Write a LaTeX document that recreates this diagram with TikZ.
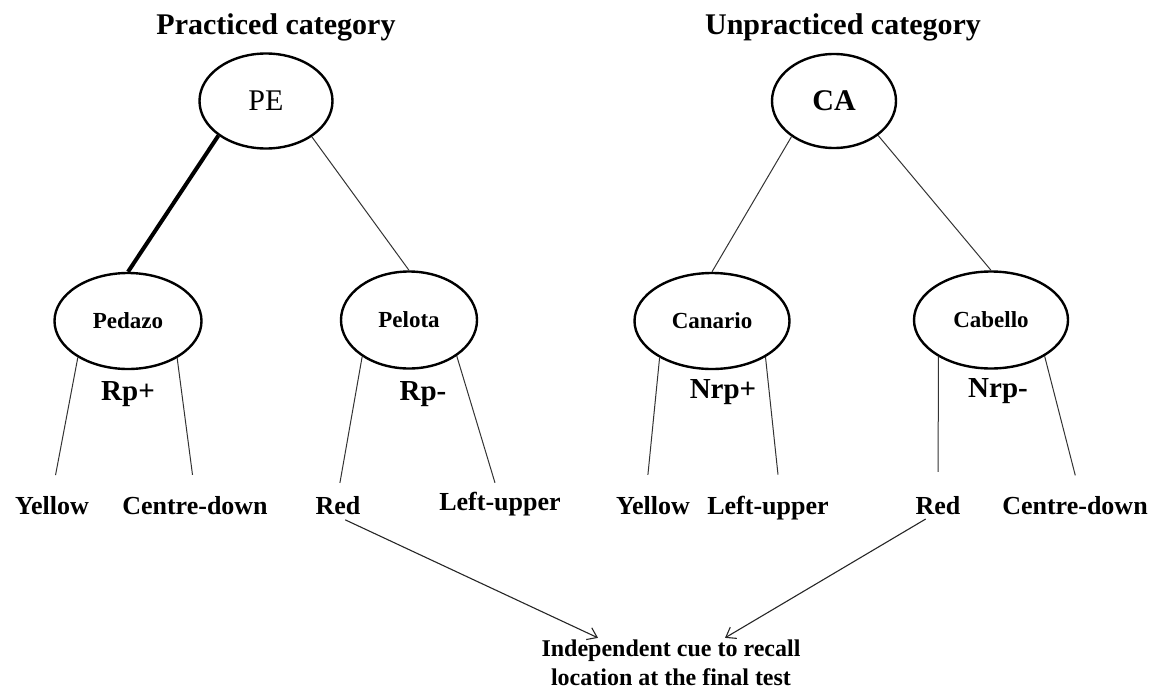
\documentclass[tikz,border=0pt]{standalone}
\usepackage{fontspec}
\setmainfont{Liberation Serif}
\usetikzlibrary{positioning,arrows.meta,shapes.geometric}

\begin{document}
\begin{tikzpicture}[
    x=1pt, y=-1pt, >={Straight Barb[length=9pt,width=13pt]},
    every node/.style={inner sep=2pt},
    cat/.style={draw, ellipse, line width=2.4pt, inner sep=0pt,
                font=\fontsize{30}{34}\selectfont},
    word/.style={draw, ellipse, line width=2.4pt, inner sep=0pt,
                 font=\fontsize{23}{26}\selectfont\bfseries},
    head/.style={anchor=base, font=\fontsize{30}{34}\selectfont\bfseries},
    leaf/.style={anchor=base, font=\fontsize{26}{30}\selectfont\bfseries},
    tag/.style={anchor=base, font=\fontsize{29}{32}\selectfont\bfseries},
    link/.style={draw=black!80, line width=1pt},
    strong/.style={draw=black, line width=4pt},
    arr/.style={->, draw=black!85, line width=1.1pt}
  ]
  \useasboundingbox (0,0) rectangle (1155,693);

  % headings
  \node[head] (titleL) at (276,35) {Practiced category};
  \node[head] (titleR) at (843,35) {Unpracticed category};

  % category cues
  \node[cat, minimum width=133pt, minimum height=95pt] (pe) at (266,101) {PE};
  \node[cat, minimum width=124pt, minimum height=94pt,
        font=\fontsize{30}{34}\selectfont\bfseries] (ca) at (834,101) {CA};

  % exemplars
  \node[word, minimum width=147pt, minimum height=96pt] (pedazo)  at (128,321) {Pedazo};
  \node[word, minimum width=136pt, minimum height=97pt] (pelota)  at (409,320) {Pelota};
  \node[word, minimum width=155pt, minimum height=96pt] (canario) at (712,321) {Canario};
  \node[word, minimum width=154pt, minimum height=97pt] (cabello) at (991,320) {Cabello};

  \node[tag] (rpplus)   at (128,400) {Rp+};
  \node[tag] (rpminus)  at (423,400) {Rp-};
  \node[tag] (nrpplus)  at (723,398) {Nrp+};
  \node[tag] (nrpminus) at (998,397) {Nrp-};

  % locations
  \node[leaf] (yellowL) at (52,514)   {Yellow};
  \node[leaf] (centreL) at (195,514)  {Centre-down};
  \node[leaf] (redL)    at (338,514)  {Red};
  \node[leaf] (leftL)   at (500,510)  {Left-upper};
  \node[leaf] (yellowR) at (653,514)  {Yellow};
  \node[leaf] (leftR)   at (768,514)  {Left-upper};
  \node[leaf] (redR)    at (938,514)  {Red};
  \node[leaf] (centreR) at (1075,514) {Centre-down};

  \node[align=center, font=\fontsize{24}{29}\selectfont\bfseries] (cue) at (671,663)
    {Independent cue to recall\\location at the final test};

  % links
  \draw[strong] (pe.216) -- (pedazo.north);
  \draw[link] (pe.322) -- (pelota.north);
  \draw[link] (ca.220) -- (canario.north);
  \draw[link] (ca.322) -- (cabello.north);

  \draw[link, shorten >=19pt] (pedazo.216) -- (yellowL.north);
  \draw[link, shorten >=19pt] (pedazo.323) -- (centreL.north);
  \draw[link, shorten >=11pt] (pelota.218) -- (redL.north);
  \draw[link, shorten >=7pt]  (pelota.323) -- ([xshift=-3pt]leftL.north);
  \draw[link, shorten >=19pt] (canario.215) -- ([xshift=-7pt]yellowR.north);
  \draw[link, shorten >=19pt] (canario.326) -- ([xshift=12pt]leftR.north);
  \draw[link, shorten >=22pt] (cabello.215) -- (redR.north);
  \draw[link, shorten >=19pt] (cabello.326) -- ([xshift=5pt]centreR.north);

  \draw[arr, shorten <=8pt] (redL.south) -- ([xshift=-73pt]cue.north);
  \draw[arr, shorten <=5pt] ([xshift=-8pt]redR.south) -- ([xshift=54pt]cue.north);
\end{tikzpicture}
\end{document}
